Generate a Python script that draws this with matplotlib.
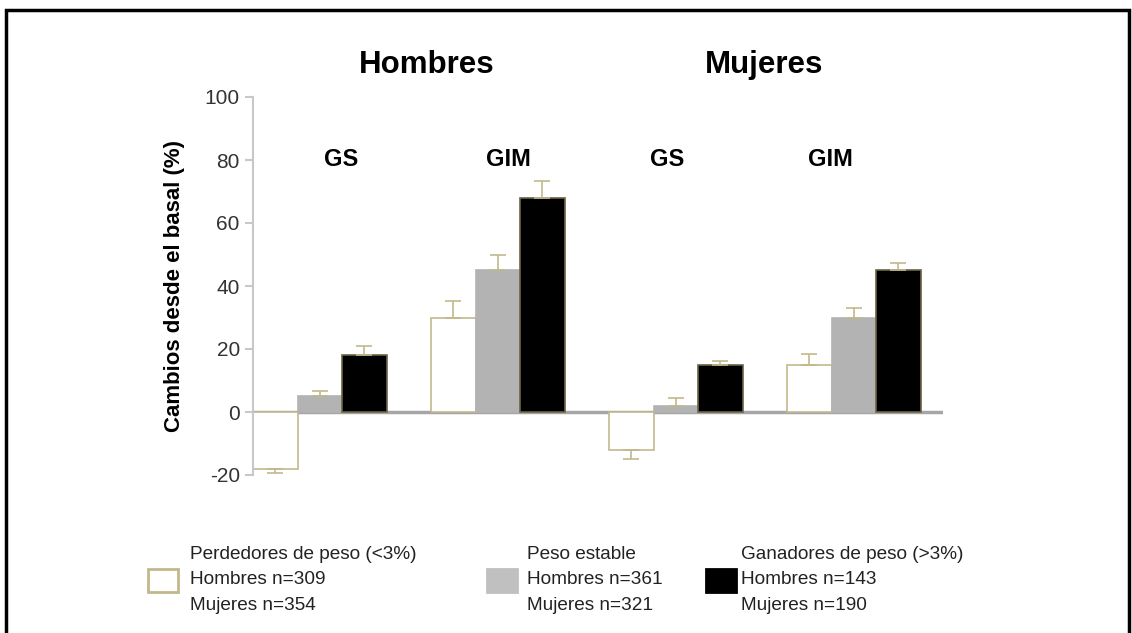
#Cambios desde el basal (%) - GS y GIM por sexo y grupo de peso
import matplotlib.pyplot as plt
import numpy as np
from matplotlib.patches import Rectangle

plt.rcParams['font.family'] = ['Liberation Sans', 'DejaVu Sans']
plt.rcParams['axes.unicode_minus'] = False

grupos = ["GS", "GIM", "GS", "GIM"]
sexos = ["Hombres", "Mujeres"]

perdedores = [-18, 30, -12, 15]
perdedores_err = [1.5, 5.3, 2.8, 3.5]
estable = [5, 45, 2, 30]
estable_err = [1.7, 4.8, 2.3, 3.0]
ganadores = [18, 68, 15, 45]
ganadores_err = [3.1, 5.3, 1.3, 2.3]

leyenda = [
    "Perdedores de peso (<3%)\nHombres n=309\nMujeres n=354",
    "Peso estable\nHombres n=361\nMujeres n=321",
    "Ganadores de peso (>3%)\nHombres n=143\nMujeres n=190",
]

tan = "#c2b88c"
fig = plt.figure(figsize=(11.32, 6.33), dpi=100)
ax = fig.add_axes([253/1132, 1-475/633, 690/1132, 378/633])

x = np.arange(len(grupos))
w = 0.25
series = [
    (perdedores, perdedores_err, "white", tan),
    (estable, estable_err, "#b3b3b3", "#b3b3b3"),
    (ganadores, ganadores_err, "black", "#6b6445"),
]
for j, (vals, errs, fc, ec) in enumerate(series):
    pos = x + (j - 1) * w
    ax.bar(pos, vals, w, color=fc, edgecolor=ec, linewidth=1.2, zorder=2)
    vals = np.array(vals)
    lower = np.where(vals < 0, errs, 0)
    upper = np.where(vals > 0, errs, 0)
    ax.errorbar(pos, vals, yerr=[lower, upper], fmt="none", ecolor=tan,
                elinewidth=1.2, capsize=6, capthick=1.2, zorder=3)

ax.axhline(0, color="#a6a6a6", linewidth=2.5, zorder=1)
ax.set_xlim(-0.375, 3.5)
ax.set_ylim(-20, 100)
ax.set_yticks(range(-20, 101, 20))
ax.set_xticks([])
for s in ["top", "right", "bottom"]:
    ax.spines[s].set_visible(False)
ax.spines["left"].set_color("#c8c8c8")
ax.spines["left"].set_linewidth(1.5)
ax.tick_params(axis="y", colors="#c8c8c8", labelcolor="#333333",
               labelsize=15, length=6, width=1.5)
ax.set_ylabel("Cambios desde el basal (%)", fontsize=16, fontweight="bold",
              labelpad=14)

# etiquetas de grupos
gpos = [0.12, 1.06, 1.95, 2.87]
for g, xp in zip(grupos, gpos):
    ax.text(xp, 80, g, ha="center", va="center", fontsize=17, fontweight="bold")
fig.text(427/1132, 1-65/633, sexos[0], ha="center", va="center",
         fontsize=22.5, fontweight="bold")
fig.text(764/1132, 1-65/633, sexos[1], ha="center", va="center",
         fontsize=22.5, fontweight="bold")

# leyenda
colores = [("white", tan), ("#c0c0c0", "#c0c0c0"), ("black", "black")]
cajas = [148, 487, 706]
textos = [190, 527, 741]
for (fc, ec), cx, tx, lab in zip(colores, cajas, textos, leyenda):
    fig.patches.append(Rectangle((cx/1132, 1-592/633), 30/1132, 23/633,
                                 transform=fig.transFigure, facecolor=fc,
                                 edgecolor=ec, linewidth=2))
    fig.text(tx/1132, 1-580/633, lab, ha="left", va="center", fontsize=13.7,
             color="#222222", linespacing=1.65)

# marco
fig.patches.append(Rectangle((6/1132, -0.05), 1123/1132, 1.05 - 10/633,
                             transform=fig.transFigure, fill=False,
                             edgecolor="black", linewidth=2.5))

plt.savefig("out.png", dpi=100)
